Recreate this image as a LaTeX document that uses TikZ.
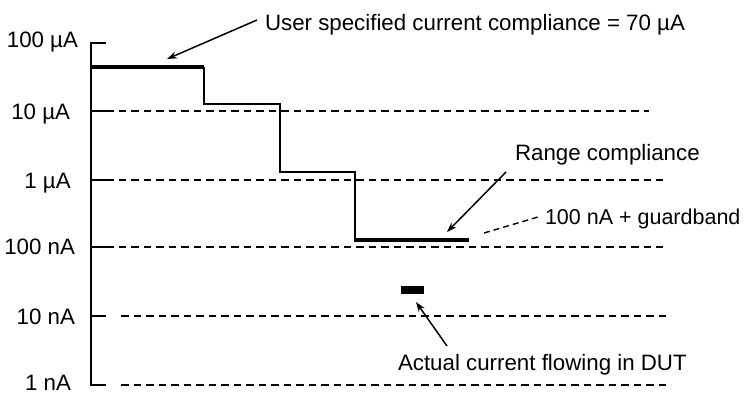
\documentclass[tikz,border=0pt]{standalone}
\usepackage{fontspec}
\setmainfont{Liberation Sans}
\usetikzlibrary{arrows.meta}
\begin{document}
\begin{tikzpicture}[x=1pt,y=-1pt,
  lbl/.style={inner sep=0pt,outer sep=0pt,font=\fontsize{22.3}{26}\selectfont},
  axisline/.style={line width=2.2pt},
  grid/.style={line width=1.4pt,dash pattern=on 7.5pt off 5pt},
  boldstep/.style={line width=3.2pt},
  thinstep/.style={line width=1.6pt},
  callout/.style={line width=1.5pt,-{Stealth[length=10pt,width=7pt]}},
  leader/.style={line width=1.4pt,dash pattern=on 6pt off 4pt}]
\useasboundingbox (0,0) rectangle (746,394);
\fill[white] (0,0) rectangle (746,394);
% axis
\coordinate (atop) at (91,43);
\coordinate (abot) at (91,385);
\draw[axisline] (106,43) -- (atop) -- (abot) -- (106,385);
% ticks
\foreach \yy in {111,180,247,316} \draw[axisline] (91,\yy) -- (106,\yy);
% dashed grid
\draw[grid] (106,111) -- (649,111);
\draw[grid] (106,180) -- (663,180);
\draw[grid] (106,247) -- (663,247);
\draw[grid] (121,316) -- (671,316);
\draw[grid] (121,385) -- (671,385);
% labels
\node[lbl,anchor=base east] (l1) at (78,47) {100 µA};
\node[lbl,anchor=base east] (l2) at (70,119) {10 µA};
\node[lbl,anchor=base east] (l3) at (70.7,188) {1 µA};
\node[lbl,anchor=base east] (l4) at (75,254.7) {100 nA};
\node[lbl,anchor=base east] (l5) at (75,324) {10 nA};
\node[lbl,anchor=base east] (l6) at (71,390) {1 nA};
% staircase
\draw[boldstep] (91,67) -- (204,67);
\draw[thinstep] (204,67) -- (204,104) -- (280,104) -- (280,172) -- (355,172) -- (355,240);
\draw[boldstep] (354.2,240) -- (469,240);
% DUT current
\fill (401,286) rectangle (424,294);
% texts
\node[lbl,anchor=base west] (user) at (265,30.5) {User specified current compliance = 70 µA};
\node[lbl,anchor=base west] (range) at (515,160) {Range compliance};
\node[lbl,anchor=base west,font=\fontsize{21.5}{26}\selectfont] (guard) at (545,224) {100 nA + guardband};
\node[lbl,anchor=base west] (actual) at (398,370) {Actual current flowing in DUT};
% callouts
\coordinate (userT) at (257,20);
\coordinate (userH) at (167,59);
\coordinate (rangeT) at (506,172);
\coordinate (rangeH) at (447,232);
\coordinate (actT) at (447,346);
\coordinate (actH) at (416,302);
\coordinate (gdA) at (484,233);
\coordinate (gdB) at (538,217);
\draw[callout] (userT) -- (userH);
\draw[callout] (rangeT) -- (rangeH);
\draw[callout] (actT) -- (actH);
\draw[leader] (gdA) -- (gdB);
\end{tikzpicture}
\end{document}
